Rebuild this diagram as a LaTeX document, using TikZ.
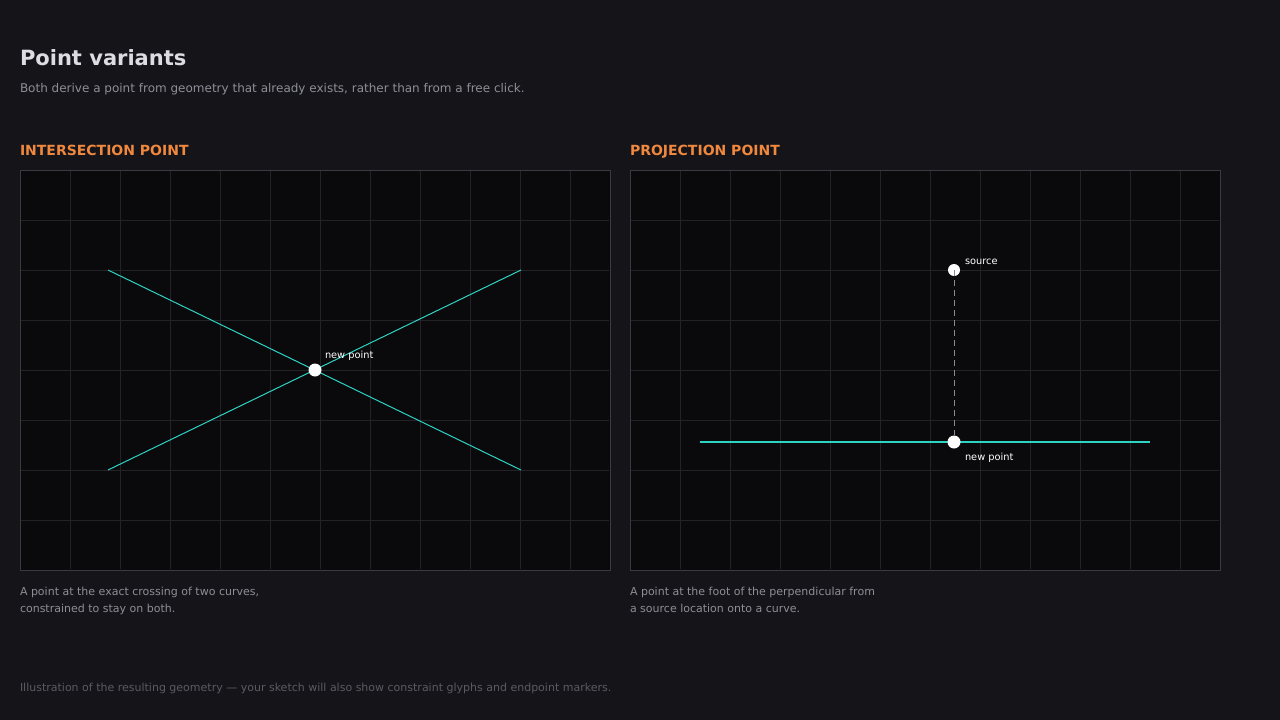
\documentclass[tikz,border=0pt]{standalone}
\usepackage{fontspec}
\setmainfont{DejaVu Sans}
\definecolor{bg}{HTML}{141419}
\definecolor{panel}{HTML}{0A0A0C}
\definecolor{gridc}{HTML}{222227}
\definecolor{framec}{HTML}{3A3A40}
\definecolor{cyanc}{HTML}{2DD4C4}
\definecolor{orangec}{HTML}{F0883E}
\definecolor{titlec}{HTML}{DCDCE2}
\definecolor{subc}{HTML}{8E8E96}
\definecolor{footc}{HTML}{5A5A62}
\definecolor{dashc}{HTML}{8A8A92}
\tikzset{
  txt/.style={anchor=base west, inner sep=0pt, outer sep=0pt},
  titletxt/.style={txt, text=titlec, font=\fontsize{21}{24}\selectfont\bfseries},
  subtxt/.style={txt, text=subc, font=\fontsize{12}{14}\selectfont},
  headtxt/.style={txt, text=orangec, font=\fontsize{14}{16}\selectfont\bfseries},
  captxt/.style={txt, text=subc, font=\fontsize{11}{13}\selectfont},
  foottxt/.style={txt, text=footc, font=\fontsize{11}{13}\selectfont},
  lbl/.style={txt, text=white, font=\fontsize{9.8}{11}\selectfont},
  framebox/.style={draw=framec, line width=1pt, fill=panel},
  gridline/.style={draw=gridc, line width=1pt},
  curve/.style={draw=cyanc, line width=1pt},
  curvethick/.style={draw=cyanc, line width=1.6pt},
  pt/.style={circle, fill=white, draw=none, minimum size=13pt, inner sep=0pt},
  proj/.style={draw=dashc, line width=0.9pt, dash pattern=on 6pt off 4pt},
}
\begin{document}
\begin{tikzpicture}[x=1pt,y=-1pt]
\useasboundingbox (0,0) rectangle (1280,720);
\fill[bg] (0,0) rectangle (1280,720);

\node[titletxt] (title) at (20,65) {Point variants};
\node[subtxt] (sub) at (20,92) {Both derive a point from geometry that already exists, rather than from a free click.};

% Left panel
\node[headtxt] (h1) at (20,155) {INTERSECTION POINT};
\path[framebox] (20,170) rectangle (610,570);
\foreach \x in {70,120,...,570} \draw[gridline] (\x,171) -- (\x,569);
\foreach \y in {220,270,...,520} \draw[gridline] (21,\y) -- (609,\y);
\draw[framec, line width=1pt] (20,170) rectangle (610,570);

\coordinate (a1) at (108,270);
\coordinate (a2) at (521,470);
\coordinate (b1) at (108,470);
\coordinate (b2) at (521,270);
\draw[curve] (a1) -- (a2);
\draw[curve] (b1) -- (b2);
\node[pt] (ip) at (315,370) {};
\node[lbl] (iplbl) at (325,358) {new point};

\node[captxt] (c1a) at (20,595) {A point at the exact crossing of two curves,};
\node[captxt] (c1b) at (20,612) {constrained to stay on both.};

% Right panel
\node[headtxt] (h2) at (630,155) {PROJECTION POINT};
\path[framebox] (630,170) rectangle (1220,570);
\foreach \x in {680,730,...,1180} \draw[gridline] (\x,171) -- (\x,569);
\foreach \y in {220,270,...,520} \draw[gridline] (631,\y) -- (1219,\y);
\draw[framec, line width=1pt] (630,170) rectangle (1220,570);

\coordinate (l1) at (700,442);
\coordinate (l2) at (1150,442);
\draw[curvethick] (l1) -- (l2);
\node[pt, minimum size=12pt] (src) at (954,270) {};
\node[pt] (foot) at (954,442) {};
\draw[proj] (src.center) -- (foot.north);
\node[lbl] (srclbl) at (965,264) {source};
\node[lbl] (footlbl) at (965,460) {new point};

\node[captxt] (c2a) at (630,595) {A point at the foot of the perpendicular from};
\node[captxt] (c2b) at (630,612) {a source location onto a curve.};

\node[foottxt] (foot1) at (20,691) {Illustration of the resulting geometry — your sketch will also show constraint glyphs and endpoint markers.};
\end{tikzpicture}
\end{document}
